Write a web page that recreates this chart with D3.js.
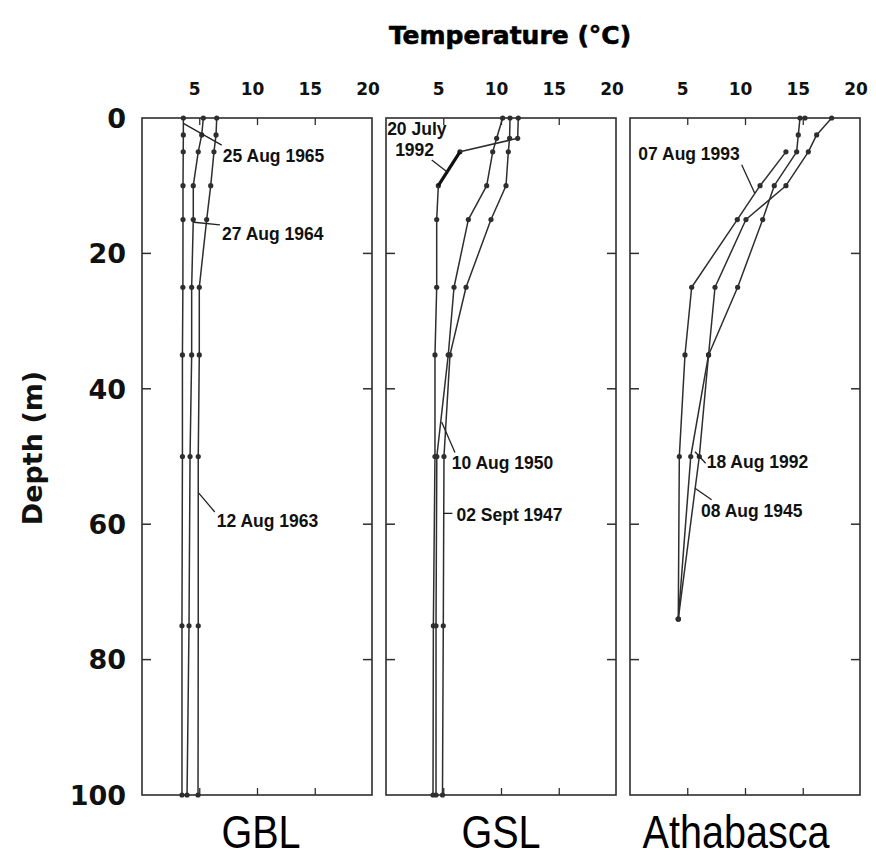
<!DOCTYPE html>
<html>
<head>
<meta charset="utf-8">
<style>
body{margin:0;background:#fff;}
svg{display:block;}
</style>
</head>
<body>
<svg width="876" height="858"></svg>
<script src="https://d3js.org/d3.v7.min.js"></script>
<script>
// depth levels (m) for each lake
var gblDepths = [0, 2.5, 5, 10, 15, 25, 35, 50, 75, 100];
var gslDepths = [0, 3, 5, 10, 15, 25, 35, 50, 75, 100];
var athDepths = [0, 2.5, 5, 10, 15, 25, 35, 50, 74];

// temperatures (deg C)
var gbl1965 = [3.58, 3.58, 3.57, 3.55, 3.55, 3.54, 3.5, 3.5, 3.46, 3.46];
var gbl1964 = [5.31, 5.17, 4.87, 4.44, 4.44, 4.3, 4.3, 4.16, 4.07, 3.9];
var gbl1963 = [6.47, 6.41, 6.23, 5.95, 5.6, 4.96, 4.96, 4.87, 4.87, 4.85];

var gsl1992 = [11.45, 11.4, 6.4, 4.53, 4.39, 4.39, 4.24, 4.24, 4.1, 4.07];
var gsl1950 = [10.1, 9.58, 9.24, 8.72, 7.13, 5.89, 5.39, 4.4, 4.33, 4.33];
var gsl1947 = [10.74, 10.7, 10.59, 10.39, 9.09, 6.93, 5.54, 5.02, 4.96, 4.89];

var ath1993 = [15.15, null, 13.5, 11.26, 9.29, 5.34, 4.76, 4.27, 4.18];
var ath1992 = [17.46, 16.16, 15.44, 13.5, 10.04, 7.36, 6.8, 5.26, 4.18];
var ath1945 = [14.72, 14.57, 14.43, 12.49, 11.49, 9.32, 6.8, 6.0, 4.18];

var lakeNames = ["GBL", "GSL", "Athabasca"];
var tempTicks = [5, 10, 15, 20];
var depthTicks = [0, 20, 40, 60, 80, 100];

// labels: [text lines], leader from (t,d) to (t,d), label anchor (t,d)
var notes = [
  [0, ["25 Aug 1965"], [3.58, 0.8, 6.9, 4.0], [7.0, 6.5]],
  [0, ["27 Aug 1964"], [4.5, 15.4, 6.75, 15.8], [6.93, 18.0]],
  [0, ["12 Aug 1963"], [4.92, 55.4, 6.3, 58.2], [6.47, 60.4]],
  [1, ["20 July", "1992"], [3.96, 6.2, 5.25, 7.9], [0.1, 2.5]],
  [1, ["10 Aug 1950"], [4.82, 44.9, 5.97, 49.4], [5.69, 51.9]],
  [1, ["02 Sept 1947"], [4.98, 58.4, 5.75, 58.4], [6.1, 59.6]],
  [2, ["07 Aug 1993"], [9.67, 6.9, 10.8, 11.1], [0.72, 6.2]],
  [2, ["18 Aug 1992"], [5.63, 49.3, 6.55, 51.0], [6.64, 51.7]],
  [2, ["08 Aug 1945"], [5.63, 54.7, 7.07, 56.4], [6.15, 58.9]]
];

var panels = [
  {depths: gblDepths, series: [gbl1965, gbl1964, gbl1963]},
  {depths: gslDepths, series: [gsl1992, gsl1950, gsl1947]},
  {depths: athDepths, series: [ath1993, ath1992, ath1945]}
];

var svg = d3.select("svg");
var panelLeft = [142, 386, 630],
    panelW = 230;

var x = d3.scaleLinear().domain([0, 20]).range([0, 231]);
var y = d3.scaleLinear().domain([0, 100]).range([118, 795]);

var ink = "#2e2e2e";

var line = d3.line()
    .defined(function(d) { return d.t != null; })
    .x(function(d) { return x(d.t); })
    .y(function(d) { return y(d.d); });

panels.forEach(function(p, i) {
  var g = svg.append("g").attr("transform", "translate(" + panelLeft[i] + ",0)");

  g.append("rect")
      .attr("x", 0).attr("y", y(0))
      .attr("width", panelW).attr("height", y(100) - y(0))
      .attr("fill", "none").attr("stroke", ink).attr("stroke-width", 1.6);

  // inward ticks
  [5, 10, 15].forEach(function(t) {
    g.append("line").attr("x1", x(t)).attr("x2", x(t)).attr("y1", y(0)).attr("y2", y(0) + 7)
        .attr("stroke", ink).attr("stroke-width", 1.3);
    g.append("line").attr("x1", x(t)).attr("x2", x(t)).attr("y1", y(100)).attr("y2", y(100) - 7)
        .attr("stroke", ink).attr("stroke-width", 1.3);
  });
  [20, 40, 60, 80].forEach(function(d) {
    g.append("line").attr("x1", 0).attr("x2", 9).attr("y1", y(d)).attr("y2", y(d))
        .attr("stroke", ink).attr("stroke-width", 1.5);
    g.append("line").attr("x1", panelW).attr("x2", panelW - 9).attr("y1", y(d)).attr("y2", y(d))
        .attr("stroke", ink).attr("stroke-width", 1.5);
  });

  // top temperature labels
  g.selectAll(".tt").data(tempTicks).enter().append("text")
      .attr("x", function(d) { return x(d) - 5; })
      .attr("y", 95)
      .attr("text-anchor", "middle")
      .style("font-family", "'DejaVu Sans', sans-serif")
      .style("font-weight", "bold")
      .style("font-size", "17px")
      .attr("fill", "#111")
      .text(function(d) { return d; });

  p.series.forEach(function(s) {
    var pts = s.map(function(t, k) { return {t: t, d: p.depths[k]}; });
    g.append("path")
        .attr("d", line(pts))
        .attr("fill", "none").attr("stroke", ink).attr("stroke-width", 1.5)
        .attr("stroke-linejoin", "round");
    g.selectAll(null).data(pts.filter(function(d) { return d.t != null; })).enter().append("circle")
        .attr("cx", function(d) { return x(d.t); })
        .attr("cy", function(d) { return y(d.d); })
        .attr("r", 2.6)
        .attr("fill", ink);
  });

  // the 1992 GSL drop is drawn heavy in the original
  if (i === 1) {
    var seg = gsl1992.slice(2, 4).map(function(t, k) { return {t: t, d: gslDepths[k + 2]}; });
    g.append("path").attr("d", line(seg)).attr("fill", "none")
        .attr("stroke", "#111").attr("stroke-width", 3.2);
  }

  notes.filter(function(n) { return n[0] === i; }).forEach(function(n) {
    var l = n[2], a = n[3];
    g.append("line")
        .attr("x1", x(l[0])).attr("y1", y(l[1]))
        .attr("x2", x(l[2])).attr("y2", y(l[3]))
        .attr("stroke", "#222").attr("stroke-width", 1.3);
    var txt = g.append("text")
        .attr("x", x(a[0])).attr("y", y(a[1]))
        .style("font-family", "'Liberation Sans', Arial, sans-serif")
        .style("font-weight", "bold")
        .style("font-size", "17.5px")
        .attr("fill", "#111");
    n[1].forEach(function(s, k) {
      txt.append("tspan").attr("x", x(a[0]) + (k ? 8 : 0)).attr("dy", k ? 21 : 0).text(s);
    });
  });

  // lake name under the panel
  svg.append("text")
      .attr("transform", "translate(" + [panelLeft[i] + [119, 115, 106][i], 848] + ") scale(0.86,1)")
      .attr("text-anchor", "middle")
      .style("font-family", "'Liberation Sans', Arial, sans-serif")
      .style("font-size", "46px")
      .attr("fill", "#000")
      .text(lakeNames[i]);
});

// depth labels on the left
svg.selectAll(".dl").data(depthTicks).enter().append("text")
    .attr("x", 126)
    .attr("y", function(d) { return y(d); })
    .attr("dy", "0.36em")
    .attr("text-anchor", "end")
    .style("font-family", "'DejaVu Sans', sans-serif")
    .style("font-weight", "bold")
    .style("font-size", "27px")
    .attr("fill", "#111")
    .text(function(d) { return d; });

svg.append("text")
    .attr("transform", "translate(42,448) rotate(-90)")
    .attr("text-anchor", "middle")
    .style("font-family", "'DejaVu Sans', sans-serif")
    .style("font-weight", "bold")
    .style("font-size", "27px")
    .attr("fill", "#111")
    .text("Depth (m)");

svg.append("text")
    .attr("x", 510).attr("y", 44)
    .attr("text-anchor", "middle")
    .style("font-family", "'DejaVu Sans', sans-serif")
    .style("font-weight", "bold")
    .style("font-size", "25px")
    .attr("fill", "#000")
    .attr("stroke", "#000").attr("stroke-width", 0.6)
    .text("Temperature (°C)");
</script>
</body>
</html>
